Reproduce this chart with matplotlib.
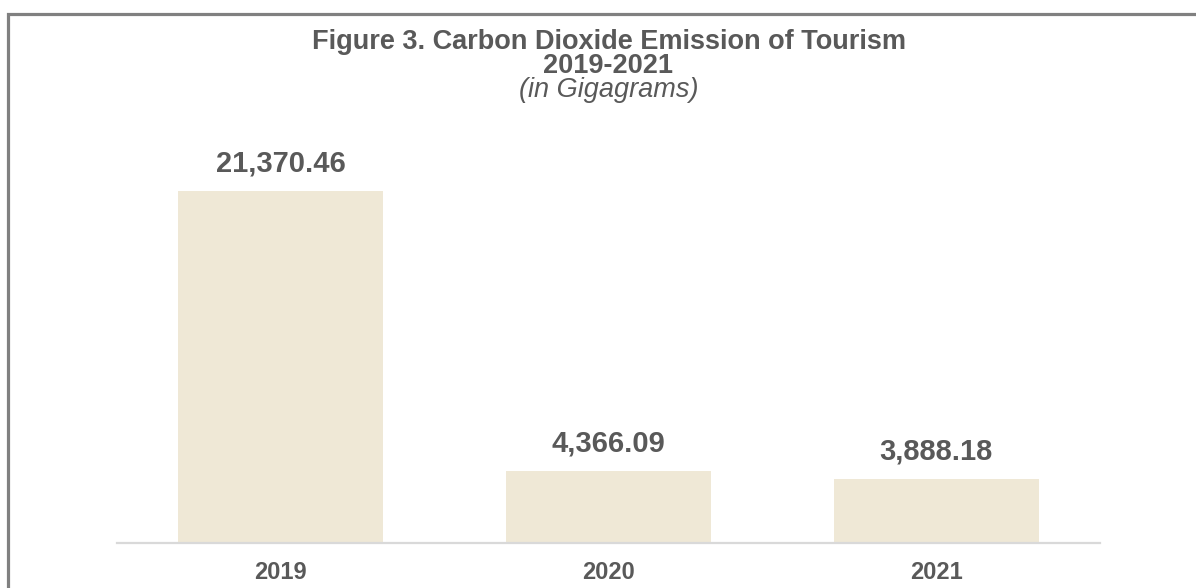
import matplotlib.pyplot as plt
from matplotlib.patches import Rectangle

years = ['2019', '2020', '2021']
emissions = [21370.46, 4366.09, 3888.18]

W, H = 1196, 588
plt.rcParams['font.family'] = ['Liberation Sans', 'DejaVu Sans']
fig = plt.figure(figsize=(W / 100, H / 100), dpi=100)
fig.patch.set_facecolor('white')

# outer frame (only left/top visible, rest clipped by the image edge)
fig.patches.append(Rectangle((8 / W, -0.2), 1.2, 1 - 13.5 / H + 0.2,
                             transform=fig.transFigure, fill=False,
                             edgecolor='#808080', linewidth=2.3))

ax = fig.add_axes([117 / W, 1 - 543 / H, (1100 - 117) / W, (543 - 150) / H])
x = range(len(years))
bars = ax.bar(x, emissions, width=0.625, color='#EFE8D6')
ax.set_xlim(-0.5, 2.5)
ax.set_ylim(0, 21370.46 * (543 - 150) / 352)

for s in ['top', 'right', 'left']:
    ax.spines[s].set_visible(False)
ax.spines['bottom'].set_color('#D9D9D9')
ax.spines['bottom'].set_linewidth(1.6)
ax.set_yticks([])
ax.set_xticks(list(x))
ax.set_xticklabels(years, fontsize=17, fontweight='bold', color='#595959')
ax.tick_params(axis='x', length=0, pad=13)

for b, v in zip(bars, emissions):
    ax.annotate(f'{v:,.2f}', (b.get_x() + b.get_width() / 2, v),
                xytext=(0, 10), textcoords='offset points',
                ha='center', va='bottom', fontsize=21, fontweight='bold',
                color='#595959')

cx = (117 + 1100) / 2 / W
fig.text(cx, 1 - 42 / H, 'Figure 3. Carbon Dioxide Emission of Tourism',
         ha='center', va='center', fontsize=19.5, fontweight='bold', color='#595959')
fig.text(cx, 1 - 66 / H, '2019-2021', ha='center', va='center',
         fontsize=19.5, fontweight='bold', color='#595959')
fig.text(cx, 1 - 90 / H, '(in Gigagrams)', ha='center', va='center',
         fontsize=19.5, style='italic', color='#595959')

fig.savefig('out.png', dpi=100)
